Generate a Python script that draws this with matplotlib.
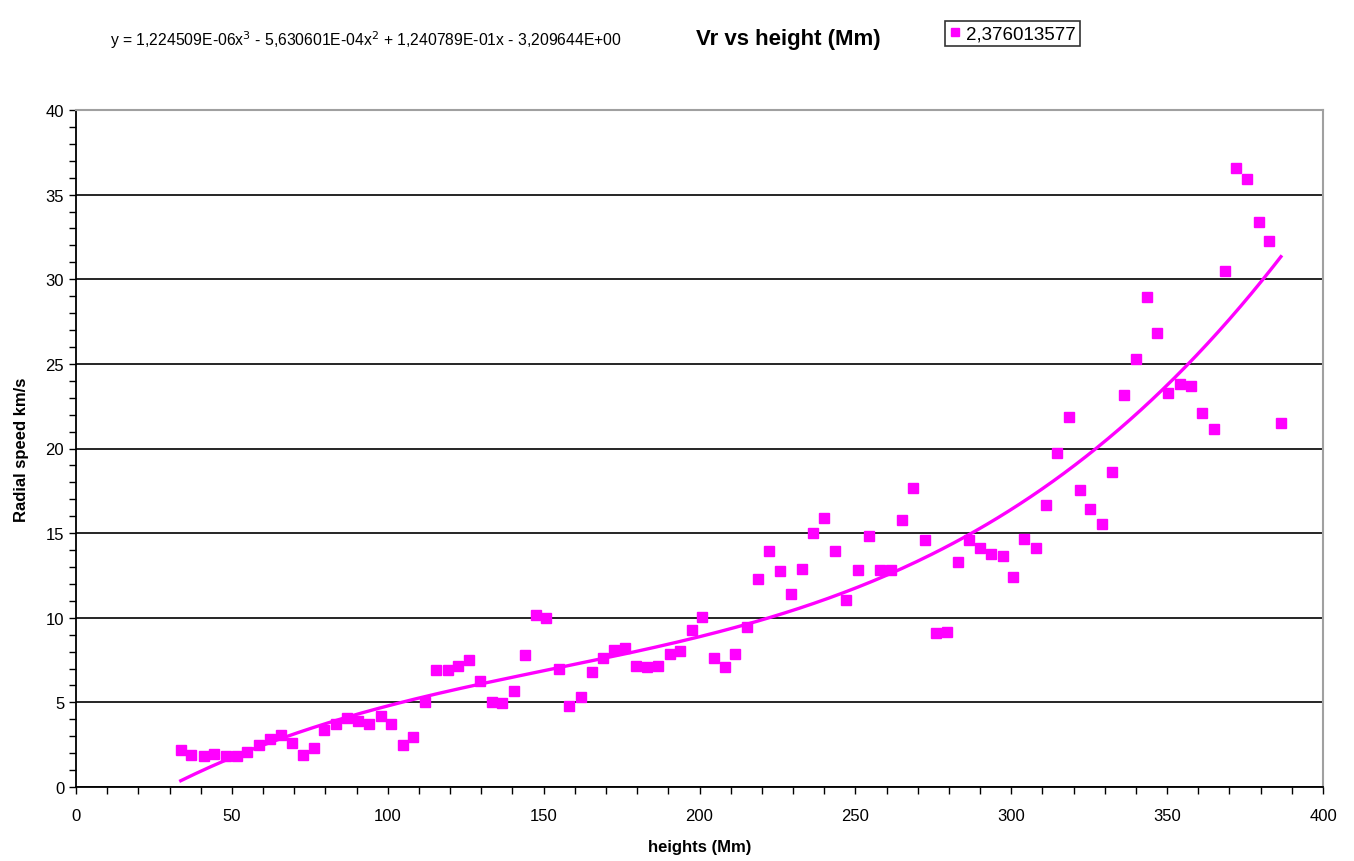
import numpy as np
import matplotlib
matplotlib.use("Agg")
from matplotlib import pyplot as plt
from matplotlib.ticker import MultipleLocator

plt.rcParams['font.family'] = ['Liberation Sans', 'DejaVu Sans']

# heights (Mm) and radial speed (km/s)
heights = [33.6, 36.9, 41.0, 44.3, 48.0, 51.6, 55.0, 58.6, 62.1, 65.6,
           69.3, 72.7, 76.3, 79.7, 83.4, 86.8, 90.6, 94.1, 97.8, 101.2,
           104.8, 108.1, 112.1, 115.4, 119.2, 122.6, 126.2, 129.7, 133.4, 136.7,
           140.5, 143.9, 147.7, 150.9, 154.8, 158.2, 161.9, 165.4, 169.1, 172.5,
           176.2, 179.5, 183.3, 186.7, 190.5, 193.9, 197.6, 200.8, 204.8, 208.1,
           211.5, 215.2, 218.8, 222.4, 225.8, 229.3, 233.0, 236.5, 239.9, 243.6,
           247.0, 250.7, 254.4, 257.9, 261.4, 265.0, 268.4, 272.3, 275.9, 279.4,
           282.8, 286.4, 289.9, 293.6, 297.2, 300.7, 304.1, 307.8, 311.3, 314.8,
           318.4, 322.0, 325.4, 329.1, 332.4, 336.3, 339.9, 343.4, 346.8, 350.4,
           354.2, 357.7, 361.3, 365.1, 368.6, 372.2, 375.7, 379.5, 382.7, 386.5]
speeds = [2.19, 1.89, 1.82, 1.97, 1.82, 1.82, 2.05, 2.50, 2.85, 3.09,
          2.58, 1.89, 2.32, 3.37, 3.72, 4.08, 3.90, 3.74, 4.17, 3.72,
          2.50, 2.95, 5.04, 6.91, 6.91, 7.17, 7.52, 6.24, 5.04, 4.96,
          5.67, 7.78, 10.18, 9.98, 6.97, 4.77, 5.32, 6.81, 7.60, 8.11,
          8.19, 7.17, 7.09, 7.17, 7.88, 8.03, 9.27, 10.06, 7.62, 7.09,
          7.88, 9.45, 12.27, 13.96, 12.78, 11.38, 12.90, 14.98, 15.87, 13.96,
          11.07, 12.80, 14.83, 12.80, 12.80, 15.79, 17.64, 14.57, 9.11, 9.17,
          13.30, 14.57, 14.14, 13.78, 13.62, 12.43, 14.65, 14.11, 16.66, 19.73,
          21.87, 17.54, 16.40, 15.52, 18.61, 23.17, 25.26, 28.94, 26.80, 23.27,
          23.80, 23.72, 22.11, 21.15, 30.48, 36.6, 35.9, 33.4, 32.25, 21.5]

# cubic trendline coefficients as printed on the chart
trend_coefs = [1.224509E-06, -5.630601E-04, 1.240789E-01, -3.209644E+00]
trend_text = "y = 1,224509E-06x$^3$ - 5,630601E-04x$^2$ + 1,240789E-01x - 3,209644E+00"
legend_label = "2,376013577"
magenta = "#ff00ff"

fig = plt.figure(figsize=(13.54, 8.62), dpi=100)
ax = fig.add_axes([76 / 1354, 74 / 862, 1247 / 1354, 677 / 862])

pts, = ax.plot(heights, speeds, "s", color=magenta, markersize=7.5, linestyle="none")
xt = np.linspace(min(heights), max(heights), 300)
ax.plot(xt, np.polyval(trend_coefs, xt), color=magenta, linewidth=2.4)

ax.set_xlim(0, 400)
ax.set_ylim(0, 40)
ax.xaxis.set_major_locator(MultipleLocator(50))
ax.xaxis.set_minor_locator(MultipleLocator(10))
ax.yaxis.set_major_locator(MultipleLocator(5))
ax.yaxis.set_minor_locator(MultipleLocator(1))
ax.tick_params(which="both", direction="out", length=5, width=1, color="black", labelsize=12)
ax.tick_params(axis="x", pad=10)
ax.grid(axis="y", which="major", color="black", linewidth=1.2)
ax.set_axisbelow(True)
for s in ("left", "bottom"):
    ax.spines[s].set_color("black")
    ax.spines[s].set_linewidth(1.3)
for s in ("top", "right"):
    ax.spines[s].set_color("#a0a0a0")
    ax.spines[s].set_linewidth(1.5)

ax.set_xlabel("heights (Mm)", fontsize=12, fontweight="bold", labelpad=12)
ax.set_ylabel("Radial speed km/s", fontsize=12, fontweight="bold", labelpad=12)

fig.text(788 / 1354, 1 - 40 / 862, "Vr vs height (Mm)", fontsize=16, fontweight="bold",
         ha="center", va="center")
fig.text(110 / 1354, 1 - 40 / 862, trend_text, fontsize=11.3, ha="left", va="center")

leg = fig.legend([pts], [legend_label], loc="upper left",
                 bbox_to_anchor=(936 / 1354, 1 - 13 / 862), fontsize=13.5,
                 frameon=True, fancybox=False, handlelength=0.6, handletextpad=0.3,
                 borderpad=0.2, markerscale=0.8)
leg.get_frame().set_edgecolor("black")
leg.get_frame().set_linewidth(1.2)

fig.savefig("out.png", dpi=100)
